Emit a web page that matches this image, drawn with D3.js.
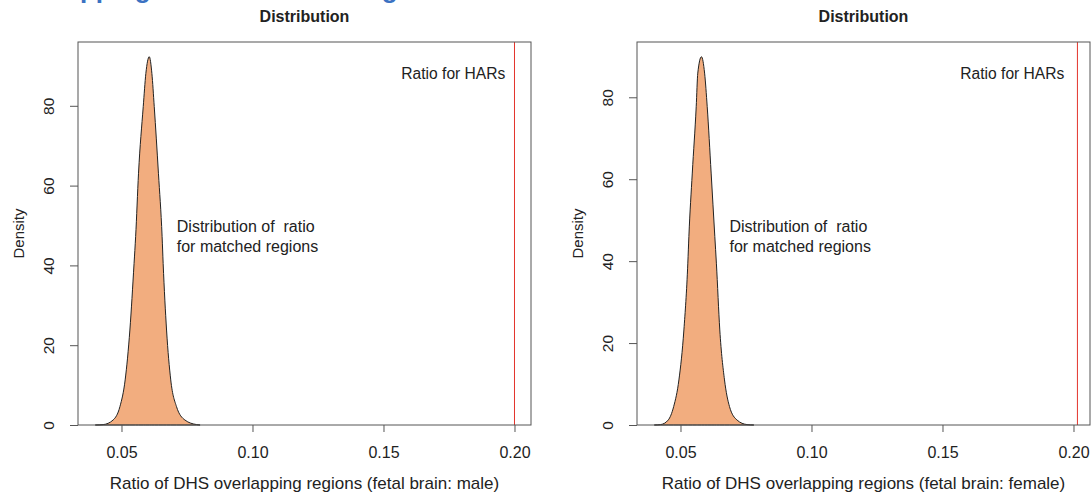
<!DOCTYPE html>
<html>
<head>
<meta charset="utf-8">
<script src="https://cdn.jsdelivr.net/npm/d3@7"></script>
<style>
    body { margin: 0; background: #fff; }
    svg text { font-family: 'Liberation Sans', Arial, Helvetica, sans-serif; fill: #222; }
</style>
</head>
<body>
<div id="chart"></div>
<script>
// density of the ratio for matched regions (male)
var maleRatio = [0.040, 0.043, 0.0468, 0.0494, 0.0514, 0.0532, 0.0548, 0.0554, 0.0565, 0.0583, 0.0593, 0.0606,
    0.0616, 0.0625, 0.0641, 0.0655, 0.0659, 0.0672, 0.0688, 0.0710, 0.0742, 0.0787, 0.080]
var maleDensity = [0, 0.1, 1.25, 4.6, 11.3, 23.8, 40.5, 47.2, 63.1, 79.8, 88.1, 92.3,
    88.1, 79.8, 63.1, 47.2, 40.5, 23.8, 11.3, 4.6, 1.25, 0.1, 0]

// density of the ratio for matched regions (female)
var femaleRatio = [0.040, 0.0424, 0.0453, 0.0474, 0.0494, 0.0513, 0.0528, 0.0532, 0.0545, 0.0560, 0.0566, 0.0580,
    0.0592, 0.0602, 0.0617, 0.0631, 0.0637, 0.0650, 0.0668, 0.0687, 0.0716, 0.0754, 0.078]
var femaleDensity = [0, 0.1, 1.2, 4.5, 11, 23.2, 39.5, 46, 61.5, 77.7, 85.9, 89.9,
    85.9, 77.7, 61.5, 46, 39.5, 23.2, 11, 4.5, 1.2, 0.1, 0]

// observed ratio for HARs
var harRatio = [0.2, 0.2015]

var xTicks = [0.05, 0.10, 0.15, 0.20]
var yTicks = [0, 20, 40, 60, 80]
var xDomain = [0.0334, 0.2063]
var panelTitles = ['Distribution', 'Distribution']
var xLabels = ['Ratio of DHS overlapping regions (fetal brain: male)',
    'Ratio of DHS overlapping regions (fetal brain: female)']
// where the note sits, in data units of each panel
var noteRatio = [0.0711, 0.0687]

var W = 1092,
    H = 496,
    panelW = 559,
    margin = { top: 42, right: 15, bottom: 71, left: 78 },
    innerW = 546 - margin.left - margin.right,
    innerH = H - margin.top - margin.bottom

var svg = d3.select('#chart').append('svg')
    .attr('width', W)
    .attr('height', H)

// cut off heading of the page above the figure
svg.append('text')
    .attr('x', -1)
    .attr('y', -2)
    .style('font-size', '26px')
    .style('font-weight', 'bold')
    .style('fill', '#3b72c2')
    .text('Overlapping HARs with DHS regions')

function drawPanel(i, ratio, density, har) {
    var g = svg.append('g')
        .attr('transform', 'translate(' + (i * panelW + margin.left) + ',' + margin.top + ')')

    var x = d3.scaleLinear().domain(xDomain).range([0, innerW])
    var y = d3.scaleLinear().domain([0, d3.max(density) * 1.04]).range([innerH, 0])

    var pts = ratio.map(function (r, k) { return [r, density[k]] })

    // заливка плотности
    g.append('path')
        .datum(pts)
        .attr('fill', '#f2ad7f')
        .attr('stroke', '#222')
        .attr('stroke-width', 1)
        .attr('d', d3.area()
            .x(function (d) { return x(d[0]) })
            .y0(y(0))
            .y1(function (d) { return y(d[1]) })
            .curve(d3.curveMonotoneX))

    // ratio for HARs
    g.append('line')
        .attr('x1', x(har)).attr('x2', x(har))
        .attr('y1', 0).attr('y2', innerH)
        .attr('stroke', '#e3342c')
        .attr('stroke-width', 1)

    // box
    g.append('rect')
        .attr('width', innerW)
        .attr('height', innerH)
        .attr('fill', 'none')
        .attr('stroke', '#555')

    var xAxis = g.append('g')
        .attr('transform', 'translate(0,' + innerH + ')')
        .call(d3.axisBottom(x).tickValues(xTicks).tickSize(7).tickPadding(15).tickFormat(d3.format('.2f')))
    var yAxis = g.append('g')
        .call(d3.axisLeft(y).tickValues(yTicks).tickSize(8).tickFormat(d3.format('d')))

    ;[xAxis, yAxis].forEach(function (a) {
        a.select('.domain').remove()
        a.selectAll('line').attr('stroke', '#555')
        a.selectAll('text').attr('fill', '#222')
    })
    xAxis.selectAll('text').style('font-size', '16px')
    yAxis.selectAll('text')
        .style('font-size', '15.5px')
        .attr('x', null)
        .attr('dy', null)
        .attr('text-anchor', 'middle')
        .attr('transform', 'translate(-24.5,0) rotate(-90)')

    // title and axis labels
    g.append('text')
        .attr('x', innerW / 2)
        .attr('y', -20)
        .attr('text-anchor', 'middle')
        .style('font-size', '16px')
        .style('font-weight', 'bold')
        .text(panelTitles[i])

    g.append('text')
        .attr('x', innerW / 2)
        .attr('y', innerH + 64)
        .attr('text-anchor', 'middle')
        .style('font-size', '17px')
        .text(xLabels[i])

    g.append('text')
        .attr('transform', 'translate(' + (23.5 - margin.left) + ',' + innerH / 2 + ') rotate(-90)')
        .attr('text-anchor', 'middle')
        .style('font-size', '15px')
        .text('Density')

    // подписи на графике
    var note = g.append('text')
        .attr('x', x(noteRatio[i]))
        .attr('y', y(48.5 * y.domain()[1] / 96))
        .style('font-size', '16px')
    note.append('tspan').text('Distribution of  ratio').style('white-space', 'pre')
    note.append('tspan').attr('x', note.attr('x')).attr('dy', 20).text('for matched regions')

    g.append('text')
        .attr('x', x(0.1965))
        .attr('y', 37)
        .attr('text-anchor', 'end')
        .style('font-size', '15.6px')
        .text('Ratio for HARs')
}

drawPanel(0, maleRatio, maleDensity, harRatio[0])
drawPanel(1, femaleRatio, femaleDensity, harRatio[1])
</script>
</body>
</html>
